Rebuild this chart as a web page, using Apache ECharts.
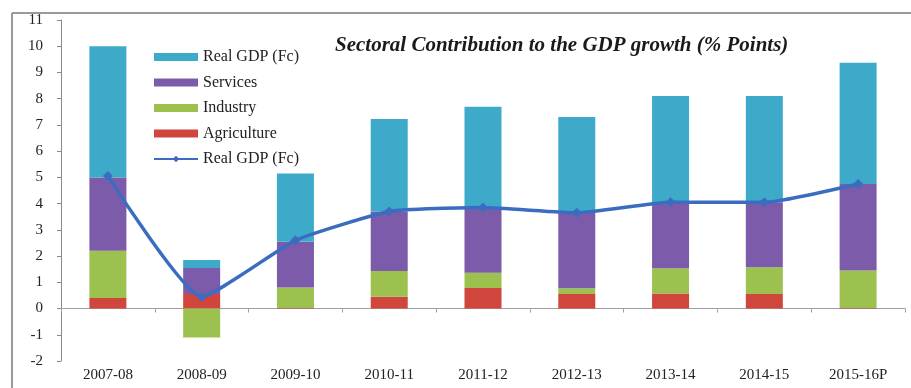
<!DOCTYPE html>
<html>
<head>
<meta charset="utf-8">
<script src="https://cdn.jsdelivr.net/npm/echarts@6/dist/echarts.min.js"></script>
<style>
  html, body { margin: 0; padding: 0; background: #ffffff; }
  #chart { width: 911px; height: 388px; }
</style>
</head>
<body>
<div id="chart"></div>
<script>
// Fiscal years on the category axis
const years = ['2007-08', '2008-09', '2009-10', '2010-11', '2011-12', '2012-13', '2013-14', '2014-15', '2015-16P'];

// Sectoral contributions (% points), stacked from the bottom up
const agriculture = [0.40, 0.55, 0.02, 0.45, 0.78, 0.55, 0.57, 0.55, 0.02];
const industry    = [1.80, -1.10, 0.78, 0.98, 0.58, 0.22, 0.97, 1.02, 1.43];
const services    = [2.80, 1.00, 1.75, 2.27, 2.49, 2.88, 2.46, 2.48, 3.30];
// Real GDP growth bar segment stacked on top of the sectors
const realGdpBar  = [5.00, 0.30, 2.60, 3.53, 3.84, 3.65, 4.10, 4.05, 4.62];
// Real GDP growth line
const realGdpLine = [5.05, 0.45, 2.60, 3.70, 3.85, 3.65, 4.05, 4.05, 4.75];

// Y axis range
const yMin = -2, yMax = 11, yStep = 1;

const BAR_GDP = 'Real GDP (Fc) bar';
const LINE_GDP = 'Real GDP (Fc)';
const legendText = { [BAR_GDP]: 'Real GDP (Fc)' };

const serif = '"Liberation Serif", "DejaVu Serif", serif';
const chart = echarts.init(document.getElementById('chart'), null, { renderer: 'canvas' });

chart.setOption({
  backgroundColor: '#ffffff',
  animation: false,
  title: {
    text: 'Sectoral Contribution to the GDP growth (% Points)',
    left: 330,
    top: 30,
    textStyle: {
      fontFamily: serif,
      fontStyle: 'italic',
      fontWeight: 'bold',
      fontSize: 21,
      color: '#1a1a1a'
    }
  },
  legend: {
    orient: 'vertical',
    left: 153,
    top: 49,
    padding: 0,
    itemWidth: 44,
    itemHeight: 8,
    itemGap: 9.5,
    data: [
      { name: BAR_GDP, icon: 'rect' },
      { name: 'Services', icon: 'rect' },
      { name: 'Industry', icon: 'rect' },
      { name: 'Agriculture', icon: 'rect' },
      { name: LINE_GDP }
    ],
    formatter: name => legendText[name] || name,
    textStyle: { fontFamily: serif, fontSize: 16, color: '#222' }
  },
  grid: { left: 61, right: 6, top: 20, bottom: 27, containLabel: false },
  xAxis: [
    {
      // labels along the bottom edge
      type: 'category',
      data: years,
      position: 'bottom',
      axisLine: { show: false, onZero: false },
      axisTick: { show: false },
      axisLabel: { fontFamily: serif, fontSize: 15, color: '#222', margin: 7 }
    },
    {
      // zero baseline with category boundary ticks
      type: 'category',
      data: years,
      position: 'bottom',
      axisLine: { show: true, onZero: true, lineStyle: { color: '#a0a0a0', width: 1 } },
      axisTick: { show: true, length: 4, inside: false, lineStyle: { color: '#a0a0a0' } },
      axisLabel: { show: false }
    }
  ],
  yAxis: {
    type: 'value',
    min: yMin,
    max: yMax,
    interval: yStep,
    axisLine: { show: true, lineStyle: { color: '#8a8a8a', width: 1 } },
    axisTick: { show: true, length: 4, lineStyle: { color: '#8a8a8a' } },
    splitLine: { show: false },
    axisLabel: { fontFamily: serif, fontSize: 15, color: '#222', margin: 18 }
  },
  series: [
    { name: 'Agriculture', type: 'bar', stack: 'gdp', data: agriculture, barWidth: 37,
      itemStyle: { color: '#d0453c' } },
    { name: 'Industry', type: 'bar', stack: 'gdp', data: industry, barWidth: 37,
      itemStyle: { color: '#9cc14f' } },
    { name: 'Services', type: 'bar', stack: 'gdp', data: services, barWidth: 37,
      itemStyle: { color: '#7c5caa' } },
    { name: BAR_GDP, type: 'bar', stack: 'gdp', data: realGdpBar, barWidth: 37,
      itemStyle: { color: '#3eaaca' } },
    { name: LINE_GDP, type: 'line', data: realGdpLine, z: 5,
      symbol: 'diamond', symbolSize: 10, smooth: 0.15,
      lineStyle: { color: '#3a6cc0', width: 3.5 },
      itemStyle: { color: '#3a6cc0' } }
  ],
  graphic: [
    { type: 'line', shape: { x1: 12, y1: 13, x2: 911, y2: 13 },
      style: { stroke: '#9a9a9a', lineWidth: 2 } },
    { type: 'line', shape: { x1: 12, y1: 13, x2: 12, y2: 388 },
      style: { stroke: '#9a9a9a', lineWidth: 2 } }
  ]
});
</script>
</body>
</html>
